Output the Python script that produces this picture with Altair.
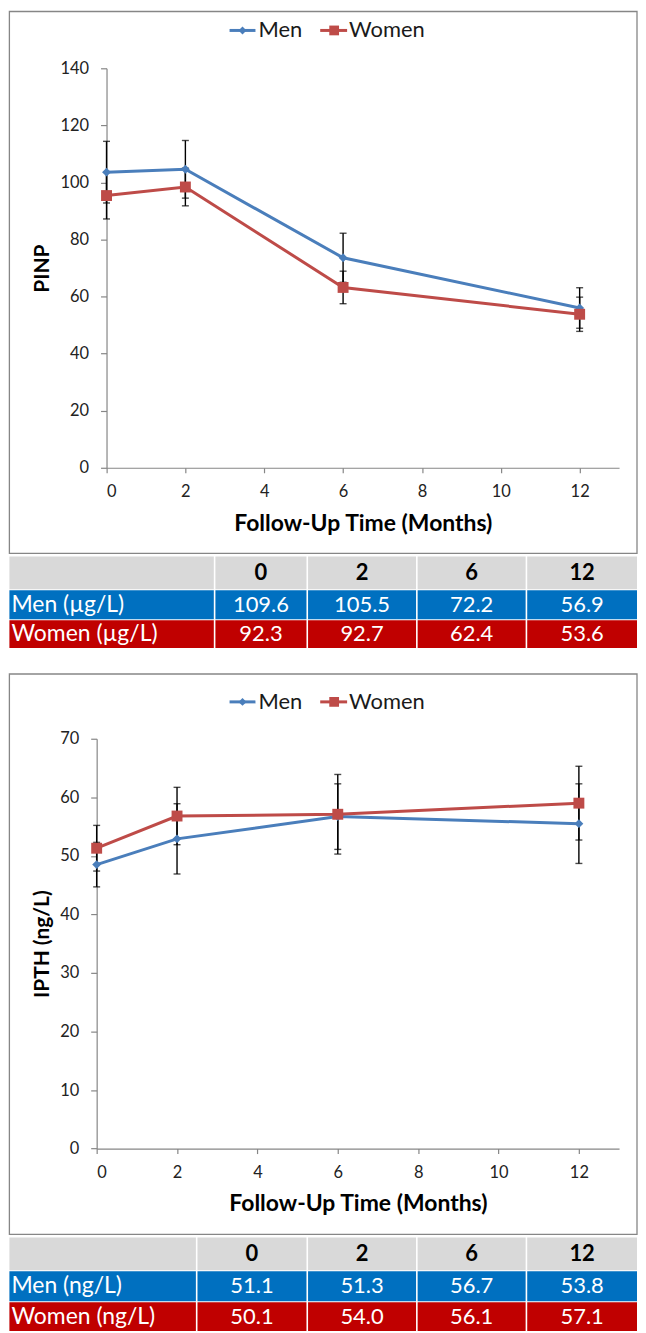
import altair as alt
import pandas as pd

# ---------------- data ----------------
months = [0, 2, 6, 12]
series_names = ["Men", "Women"]

pinp_men = [103.6, 104.6, 73.6, 56.0]
pinp_men_err = [10.8, 10.1, 8.6, 7.1]
pinp_women = [95.4, 98.4, 63.2, 53.8]
pinp_women_err = [8.2, 6.6, 5.7, 6.0]

ipth_men = [48.5, 52.9, 56.7, 55.5]
ipth_men_err = [3.8, 6.0, 5.6, 6.8]
ipth_women = [51.3, 56.8, 57.1, 59.0]
ipth_women_err = [3.9, 4.9, 6.8, 6.3]

table_cols = ["0", "2", "6", "12"]
pinp_table_rows = ["Men (\u00b5g/L)", "Women (\u00b5g/L)"]
pinp_table_men = [109.6, 105.5, 72.2, 56.9]
pinp_table_women = [92.3, 92.7, 62.4, 53.6]
ipth_table_rows = ["Men (ng/L)", "Women (ng/L)"]
ipth_table_men = [51.1, 51.3, 56.7, 53.8]
ipth_table_women = [50.1, 54.0, 56.1, 57.1]

# ---------------- style / layout (page pixels) ----------------
COLORS = ["#4A7EBB", "#BE4B48"]
SHAPES = ["diamond", "square"]
SIZES = [80, 120]
ROW_FILLS = ["#D9D9D9", "#0070C0", "#C00000"]
FONT = "Lato"
GREY = "#868686"
ORIGIN_X = 95.6          # common left edge of every panel's plot group
LEFT, RIGHT = 8, 638     # visible page extent
PLOT_W = 620 - ORIGIN_X

LEG_LINE = [(229, 255), (320, 347)]
LEG_MARK = [242, 334]
LEG_TEXT = [258, 349]


def one():
    return alt.Data(values=[{}])


def rx(v):
    return v - ORIGIN_X


def make_chart(men, men_err, women, women_err, ymax, ystep, ytitle,
               axis_x, top, bottom, box_top, box_bottom, legend_y, ytitle_cx, xtitle_cy):
    H = bottom - top
    ry = lambda v: v - top

    df = pd.DataFrame({
        "month": months * 2,
        "series": [series_names[0]] * len(months) + [series_names[1]] * len(months),
        "value": men + women,
        "err": men_err + women_err,
    })
    df["lo"] = df["value"] - df["err"]
    df["hi"] = df["value"] + df["err"]

    x0 = rx(axis_x)
    xscale = alt.Scale(domain=[0, 13], nice=False, zero=False, range=[x0, PLOT_W])
    xaxis = alt.Axis(values=[0, 2, 4, 6, 8, 10, 12], title="Follow-Up Time (Months)",
                     titleX=(x0 + PLOT_W) / 2, titleY=xtitle_cy - bottom, titleBaseline="middle",
                     titleAlign="center", titleFontSize=23, tickSize=5, labelPadding=11)
    yscale = alt.Scale(domain=[0, ymax], nice=False)
    yaxis = alt.Axis(values=list(range(0, ymax + 1, ystep)), title=ytitle,
                     titleX=ytitle_cx - axis_x, titleY=H / 2, titleAngle=270,
                     titleBaseline="middle", titleAlign="center", titleFontSize=21,
                     tickSize=6, labelPadding=12, offset=-x0)
    color = alt.Color("series:N", scale=alt.Scale(domain=series_names, range=COLORS), legend=None)

    X = lambda f: alt.X(f, scale=xscale, axis=xaxis)
    Y = lambda f: alt.Y(f, scale=yscale, axis=yaxis)

    base = alt.Chart(df)
    frame = alt.Chart(one()).mark_rect(fillOpacity=0, stroke=GREY, strokeWidth=1.3).encode(
        x=alt.value(rx(LEFT)), x2=alt.value(rx(RIGHT)),
        y=alt.value(ry(box_top)), y2=alt.value(ry(box_bottom)))

    lines = base.mark_line(strokeWidth=3).encode(x=X("month:Q"), y=Y("value:Q"), color=color)
    bars = base.mark_rule(color="black", strokeWidth=1.4).encode(
        x=X("month:Q"), y=Y("lo:Q"), y2="hi:Q")
    cap_lo = base.mark_tick(orient="horizontal", size=7, thickness=1.4, color="black").encode(
        x=X("month:Q"), y=Y("lo:Q"))
    cap_hi = base.mark_tick(orient="horizontal", size=7, thickness=1.4, color="black").encode(
        x=X("month:Q"), y=Y("hi:Q"))
    pts = []
    for i, name in enumerate(series_names):
        pts.append(base.transform_filter(alt.datum.series == name).mark_point(
            shape=SHAPES[i], size=SIZES[i], filled=True, opacity=1).encode(
            x=X("month:Q"), y=Y("value:Q"), color=color))

    legend = []
    ly = ry(legend_y)
    for i, name in enumerate(series_names):
        legend.append(alt.Chart(one()).mark_rule(color=COLORS[i], strokeWidth=3).encode(
            x=alt.value(rx(LEG_LINE[i][0])), x2=alt.value(rx(LEG_LINE[i][1])), y=alt.value(ly)))
        legend.append(alt.Chart(one()).mark_point(shape=SHAPES[i], size=SIZES[i] * 0.8,
                                                   filled=True, opacity=1, color=COLORS[i]).encode(
            x=alt.value(rx(LEG_MARK[i])), y=alt.value(ly)))
        legend.append(alt.Chart(one()).mark_text(text=name, align="left", baseline="middle",
                                                  font=FONT, fontSize=22, color="#1a1a1a").encode(
            x=alt.value(rx(LEG_TEXT[i])), y=alt.value(ly)))

    return alt.layer(frame, lines, bars, cap_lo, cap_hi, *pts, *legend).properties(
        width=PLOT_W, height=H)


def make_table(row_names, men_vals, women_vals, col_bounds, row_bounds, group_top, group_h):
    texts_all = [[""] + table_cols,
                 [row_names[0]] + [f"{v:.1f}" for v in men_vals],
                 [row_names[1]] + [f"{v:.1f}" for v in women_vals]]
    recs = []
    for r in range(3):
        for c in range(5):
            x0 = rx(col_bounds[c]) + (0.8 if c > 0 else 0)
            x1 = rx(col_bounds[c + 1]) - (0.8 if c < 4 else 0)
            y0 = row_bounds[r] - group_top
            y1 = row_bounds[r + 1] - group_top - 1
            kind = "head" if r == 0 else ("label" if c == 0 else "val")
            recs.append({"x0": x0, "x1": x1, "y0": y0, "y1": y1,
                         "fill": ROW_FILLS[r], "text": texts_all[r][c],
                         "cx": (x0 + x1) / 2, "lx": x0 + 2, "cy": (y0 + y1) / 2,
                         "kind": kind})
    df = pd.DataFrame(recs)
    base = alt.Chart(df)
    cells = base.mark_rect().encode(
        x=alt.X("x0:Q", scale=None), x2="x1:Q",
        y=alt.Y("y0:Q", scale=None), y2="y1:Q",
        fill=alt.Fill("fill:N", scale=None))
    head = base.transform_filter(alt.datum.kind == "head").mark_text(
        font=FONT, fontSize=22, fontWeight="bold", color="black", baseline="middle", align="center").encode(
        x=alt.X("cx:Q", scale=None), y=alt.Y("cy:Q", scale=None), text="text:N")
    vals = base.transform_filter(alt.datum.kind == "val").mark_text(
        font=FONT, fontSize=22, color="white", baseline="middle", align="center").encode(
        x=alt.X("cx:Q", scale=None), y=alt.Y("cy:Q", scale=None), text="text:N")
    labels = base.transform_filter(alt.datum.kind == "label").mark_text(
        font=FONT, fontSize=23, color="white", baseline="middle", align="left").encode(
        x=alt.X("lx:Q", scale=None), y=alt.Y("cy:Q", scale=None), text="text:N")
    return alt.layer(cells, head, vals, labels).properties(width=PLOT_W, height=group_h)


# chart 1 plot: page y 65..466, y-axis at page x 105.5
chart1 = make_chart(pinp_men, pinp_men_err, pinp_women, pinp_women_err, 140, 20, "PINP",
                    105.5, 65, 466, 8, 552, 27, 41, 522)
# table 1 group spans page y 466..738
table1 = make_table(pinp_table_rows, pinp_table_men, pinp_table_women,
                    [LEFT, 214, 307, 417, 527, RIGHT], [555, 589, 619, 648], 466, 738 - 466)
# chart 2 plot: page y 738..1149.4, y-axis at page x 95.6
chart2 = make_chart(ipth_men, ipth_men_err, ipth_women, ipth_women_err, 70, 10, "IPTH (ng/L)",
                    95.6, 738, 1149.4, 673, 1235.5, 701, 41, 1205)
# table 2 group spans page y 1149.4..1333
table2 = make_table(ipth_table_rows, ipth_table_men, ipth_table_women,
                    [LEFT, 196, 307, 417, 527, RIGHT], [1238, 1272, 1303, 1333], 1149.4, 1333 - 1149.4)

chart = alt.vconcat(chart1, table1, chart2, table2, spacing=0, bounds="flush").properties(
    padding=0, background="white"
).configure_view(stroke=None).configure_axis(
    labelFont=FONT, labelFontSize=16.5, labelColor="#222222",
    titleFont=FONT, titleFontWeight="bold", titleColor="black",
    domainColor=GREY, tickColor=GREY, domainWidth=1.2, tickWidth=1.2, grid=False
)

chart.save("out.html", embed_options={"renderer": "svg", "actions": False})
